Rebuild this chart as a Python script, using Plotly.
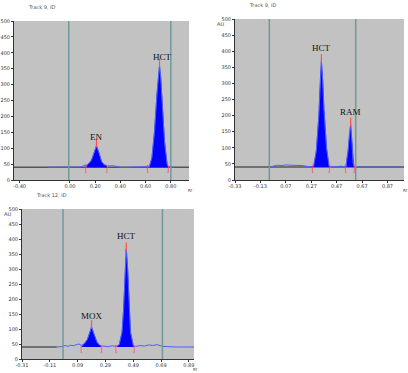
import plotly.graph_objects as go

# ---------------- data ----------------
# Track 9 (EN / HCT)
t1_rf = [-0.17, -0.05, 0.00, 0.05, 0.08, 0.10, 0.12, 0.13, 0.15, 0.17, 0.19, 0.21, 0.23,
         0.25, 0.27, 0.29, 0.31, 0.34, 0.37, 0.40, 0.45, 0.55, 0.61, 0.63, 0.65, 0.67,
         0.69, 0.70, 0.71, 0.72, 0.73, 0.75, 0.77, 0.79, 0.82]
t1_au = [40, 40, 41, 42, 41, 43, 47, 46, 52, 62, 82, 108, 85,
         58, 48, 45, 44, 45, 42, 40, 40, 40, 40, 42, 70, 150,
         270, 330, 360, 320, 250, 120, 50, 41, 40]
t1_peaks = ["EN", "HCT"]
t1_peak_rf = [0.21, 0.71]
t1_peak_au = [108, 360]
t1_bounds = [(0.13, 0.29), (0.62, 0.775)]
t1_label_au = [135, 387]
t1_ticks = [-0.40, 0.00, 0.20, 0.40, 0.60, 0.80]
t1_ticktext = ["-0.40", "0.00", "0.20", "0.40", "0.60", "0.80"]
t1_vlines = [-0.01, 0.80]

# Track 9 (HCT / RAM)
t2_rf = [-0.06, -0.03, 0.00, 0.04, 0.07, 0.10, 0.15, 0.20, 0.24, 0.27, 0.29, 0.31, 0.33,
         0.34, 0.35, 0.36, 0.37, 0.39, 0.41, 0.43, 0.46, 0.50, 0.53, 0.545, 0.56, 0.57,
         0.58, 0.59, 0.60, 0.62, 0.70, 0.85, 0.98]
t2_au = [40, 44, 46, 45, 47, 46, 46, 45, 42, 41, 45, 90, 200,
         300, 370, 310, 220, 100, 45, 42, 40, 43, 41, 48, 90, 140,
         172, 120, 50, 40, 40, 40, 40]
t2_peaks = ["HCT", "RAM"]
t2_peak_rf = [0.35, 0.58]
t2_peak_au = [370, 172]
t2_bounds = [(0.285, 0.41), (0.545, 0.605)]
t2_label_au = [410, 211]
t2_ticks = [-0.33, -0.13, 0.07, 0.27, 0.47, 0.67, 0.87]
t2_ticktext = ["-0.33", "-0.13", "0.07", "0.27", "0.47", "0.67", "0.87"]
t2_vlines = [-0.06, 0.62]

# Track 12 (MOX / HCT)
t3_rf = [-0.06, -0.03, 0.00, 0.02, 0.04, 0.06, 0.08, 0.10, 0.12, 0.14, 0.16, 0.18, 0.19,
         0.21, 0.23, 0.25, 0.28, 0.31, 0.34, 0.37, 0.39, 0.41, 0.42, 0.43, 0.44, 0.45,
         0.46, 0.47, 0.49, 0.51, 0.54, 0.57, 0.60, 0.63, 0.66, 0.70, 0.80, 0.93]
t3_au = [40, 41, 45, 42, 46, 44, 48, 50, 45, 52, 65, 90, 107,
         80, 55, 45, 43, 41, 44, 42, 48, 90, 160, 270, 367, 300,
         180, 90, 44, 42, 45, 43, 47, 45, 48, 42, 40, 40]
t3_peaks = ["MOX", "HCT"]
t3_peak_rf = [0.19, 0.44]
t3_peak_au = [107, 367]
t3_bounds = [(0.12, 0.26), (0.37, 0.495)]
t3_label_au = [142, 411]
t3_ticks = [-0.31, -0.11, 0.09, 0.29, 0.49, 0.69, 0.89]
t3_ticktext = ["-0.31", "-0.11", "0.09", "0.29", "0.49", "0.69", "0.89"]
t3_vlines = [-0.015, 0.70]

titles = ["Track 9, ID", "Track 9, ID", "Track 12, ID"]
y_ticks = [0, 50, 100, 150, 200, 250, 300, 350, 400, 450, 500]
baseline = 40

# ---------------- layout geometry ----------------
W, H = 408, 373
panels = [
    dict(rf=t1_rf, au=t1_au, peaks=t1_peaks, prf=t1_peak_rf, pau=t1_peak_au, bounds=t1_bounds,
         lau=t1_label_au, ticks=t1_ticks, tt=t1_ticktext, vl=t1_vlines,
         px=(14, 189), py=(21, 180), xr=(-0.444, 0.944), base_end=None),
    dict(rf=t2_rf, au=t2_au, peaks=t2_peaks, prf=t2_peak_rf, pau=t2_peak_au, bounds=t2_bounds,
         lau=t2_label_au, ticks=t2_ticks, tt=t2_ticktext, vl=t2_vlines,
         px=(235, 404), py=(19, 180), xr=(-0.33, 1.0), base_end=None),
    dict(rf=t3_rf, au=t3_au, peaks=t3_peaks, prf=t3_peak_rf, pau=t3_peak_au, bounds=t3_bounds,
         lau=t3_label_au, ticks=t3_ticks, tt=t3_ticktext, vl=t3_vlines,
         px=(22, 194), py=(209, 359), xr=(-0.31, 0.927), base_end=-0.06),
]

fig = go.Figure()
shapes = []
annotations = []
BLUE = "#0000ff"
LINE_BLUE = "#4d5dff"
RED = "#ff5050"

for i, p in enumerate(panels):
    k = "" if i == 0 else str(i + 1)
    xa, ya = "x" + k, "y" + k
    # baseline (dark grey)
    x1 = p["xr"][1] if p["base_end"] is None else p["base_end"]
    fig.add_trace(go.Scatter(x=[p["xr"][0], x1], y=[baseline, baseline], mode="lines",
                             line=dict(color="#555555", width=1.5), xaxis=xa, yaxis=ya,
                             hoverinfo="skip", showlegend=False))
    # filled peaks
    for (lo, hi) in p["bounds"]:
        xs = [r for r in p["rf"] if lo <= r <= hi]
        ys = [a for r, a in zip(p["rf"], p["au"]) if lo <= r <= hi]
        fx = [lo] + xs + [hi]
        fy = [baseline] + ys + [baseline]
        fig.add_trace(go.Scatter(x=fx, y=fy, mode="lines", fill="toself", fillcolor=BLUE,
                                 line=dict(color=BLUE, width=0.5), xaxis=xa, yaxis=ya,
                                 hoverinfo="skip", showlegend=False))
    # chromatogram trace
    fig.add_trace(go.Scatter(x=p["rf"], y=p["au"], mode="lines",
                             line=dict(color=LINE_BLUE, width=1), xaxis=xa, yaxis=ya,
                             showlegend=False))
    # peak boundary brackets
    bx, bt = [], []
    for (lo, hi) in p["bounds"]:
        bx += [lo, hi]
        bt += ["[", "]"]
    fig.add_trace(go.Scatter(x=bx, y=[30] * len(bx), mode="text", text=bt,
                             textfont=dict(color=RED, size=8, family="DejaVu Sans"),
                             xaxis=xa, yaxis=ya, hoverinfo="skip", showlegend=False))
    # peak top ticks
    fig.add_trace(go.Scatter(x=p["prf"], y=[a + 8 for a in p["pau"]], mode="markers",
                             marker=dict(symbol="line-ns", size=6,
                                         line=dict(color=RED, width=1.2)),
                             xaxis=xa, yaxis=ya, hoverinfo="skip", showlegend=False))
    # peak labels
    for name, r, la in zip(p["peaks"], p["prf"], p["lau"]):
        annotations.append(dict(x=r + (0.025 if name == "HCT" and i == 0 else 0), y=la,
                                xref=xa, yref=ya, text=name, showarrow=False,
                                font=dict(family="Liberation Serif", size=9, color="#111")))
    # vertical track lines
    for v in p["vl"]:
        shapes.append(dict(type="line", xref=xa, yref=ya + " domain", x0=v, x1=v, y0=0, y1=1,
                           line=dict(color="#6f9a9a", width=1.5), layer="above"))
    dom_x = [p["px"][0] / W, p["px"][1] / W]
    dom_y = [1 - p["py"][1] / H, 1 - p["py"][0] / H]
    axis_common = dict(showgrid=False, zeroline=False, showline=True, linecolor="#333",
                       linewidth=1, ticks="outside", ticklen=2, tickcolor="#333",
                       automargin=False,
                       tickfont=dict(size=5, color="#333", family="DejaVu Sans"))
    fig.update_layout(**{
        "xaxis" + k: dict(domain=dom_x, range=list(p["xr"]), tickvals=p["ticks"],
                          ticktext=p["tt"], anchor=ya, ticklabelstandoff=-1, **axis_common),
        "yaxis" + k: dict(domain=dom_y, range=[0, 500], tickvals=y_ticks, anchor=xa,
                          **axis_common),
    })
    # title and axis captions
    annotations.append(dict(x=(p["px"][0] + 12) / W, y=1 - (p["py"][0] - 14) / H,
                            xref="paper", yref="paper", text=titles[i], showarrow=False,
                            xanchor="left", yanchor="middle",
                            font=dict(size=5, color="#555", family="DejaVu Sans")))
    annotations.append(dict(x=(p["px"][1] - 3) / W, y=1 - (p["py"][1] + 10) / H,
                            xref="paper", yref="paper", text="Rf", showarrow=False,
                            xanchor="left", yanchor="middle",
                            font=dict(size=4, color="#444", family="DejaVu Sans")))
    if i > 0:
        annotations.append(dict(x=(p["px"][0] - 20) / W, y=1 - (p["py"][0] + 5) / H,
                                xref="paper", yref="paper", text="AU", showarrow=False,
                                xanchor="left", yanchor="middle",
                                font=dict(size=5, color="#444", family="DejaVu Sans")))

fig.update_layout(width=W, height=H, margin=dict(l=0, r=0, t=0, b=0),
                  paper_bgcolor="white", plot_bgcolor="#c2c2c2",
                  shapes=shapes, annotations=annotations, showlegend=False)

fig.write_html("out.html", config={"displayModeBar": False},
               post_script="document.body.style.margin='0';document.body.style.overflow='hidden';")
